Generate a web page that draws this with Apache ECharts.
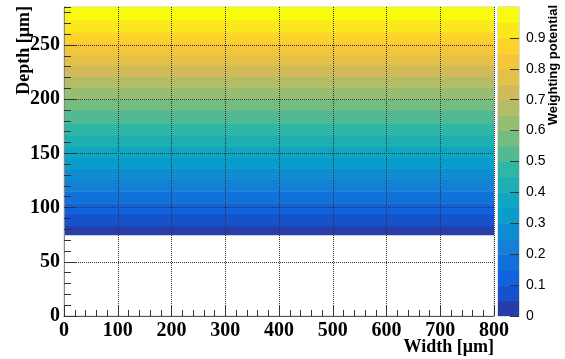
<!DOCTYPE html>
<html>
<head>
<meta charset="utf-8">
<script src="https://cdn.jsdelivr.net/npm/echarts@6/dist/echarts.min.js"></script>
<style>
  html, body { margin: 0; padding: 0; background: #fff; }
  #main { width: 565px; height: 359px; }
</style>
</head>
<body>
<div id="main"></div>
<script>
// band edges along the depth (um)
var depthEdges = [75, 83, 94, 104, 115, 126, 136, 146, 156, 167, 178, 190, 200, 211, 221, 231, 241, 252, 262, 273, 285];
// weighting potential in each band (middle of its contour level)
var potential = [0.025, 0.075, 0.125, 0.175, 0.225, 0.275, 0.325, 0.375, 0.425, 0.475,
                 0.525, 0.575, 0.625, 0.675, 0.725, 0.775, 0.825, 0.875, 0.925, 0.975];
var widthRange = [0, 800];
// contour levels of the colour scale
var zLevels = [0, 0.05, 0.1, 0.15, 0.2, 0.25, 0.3, 0.35, 0.4, 0.45, 0.5,
               0.55, 0.6, 0.65, 0.7, 0.75, 0.8, 0.85, 0.9, 0.95, 1];
// tick labels
var xTicks = [0, 100, 200, 300, 400, 500, 600, 700, 800];
var yTicks = [0, 50, 100, 150, 200, 250];
var zTicks = [0, 0.1, 0.2, 0.3, 0.4, 0.5, 0.6, 0.7, 0.8, 0.9];

// ROOT kBird palette
var birdStops = [0, 0.125, 0.25, 0.375, 0.5, 0.625, 0.75, 0.875, 1];
var birdR = [0.2082, 0.0592, 0.0780, 0.0232, 0.1802, 0.5301, 0.8186, 0.9956, 0.9764];
var birdG = [0.1664, 0.3599, 0.5041, 0.6419, 0.7178, 0.7492, 0.7328, 0.7862, 0.9832];
var birdB = [0.5293, 0.8684, 0.8385, 0.7914, 0.6425, 0.4662, 0.3499, 0.1968, 0.0539];
function bird(t) {
    var i = 0;
    while (i < birdStops.length - 2 && t > birdStops[i + 1]) i++;
    var f = (t - birdStops[i]) / (birdStops[i + 1] - birdStops[i]);
    function c(a) { return Math.round(255 * (a[i] + f * (a[i + 1] - a[i]))); }
    return 'rgb(' + c(birdR) + ',' + c(birdG) + ',' + c(birdB) + ')';
}
var nLev = zLevels.length - 1;
var levelColors = [];
for (var k = 0; k < nLev; k++) {
    levelColors.push(bird(Math.floor((k + 0.99) * 255 / nLev) / 254));
}
function colorFor(v) {
    for (var k = 0; k < nLev; k++) {
        if (v >= zLevels[k] && v < zLevels[k + 1]) return levelColors[k];
    }
    return levelColors[nLev - 1];
}

var bandData = [];
for (var i = 0; i < potential.length; i++) {
    bandData.push([widthRange[0], widthRange[1], depthEdges[i], depthEdges[i + 1], potential[i]]);
}
var barData = [];
for (var j = 0; j < nLev; j++) {
    barData.push([zLevels[j], zLevels[j + 1], (zLevels[j] + zLevels[j + 1]) / 2]);
}

var serif = { fontFamily: 'Liberation Serif', fontWeight: 'bold', fontSize: 20, color: '#000' };

var chart = echarts.init(document.getElementById('main'));
chart.setOption({
    animation: false,
    grid: [
        { left: 64, right: 71, top: 7, bottom: 43, show: true, borderColor: '#ccc', borderWidth: 1 },
        { left: 498, right: 46, top: 7, bottom: 43, show: true, borderColor: '#bbb', borderWidth: 1 }
    ],
    xAxis: [
        {
            gridIndex: 0, type: 'value', min: 0, max: 800, interval: 100, z: 5,
            axisLine: { show: true, onZero: false, lineStyle: { color: '#555', width: 1 } },
            axisTick: { inside: true, length: 10, lineStyle: { color: '#333' } },
            minorTick: { show: true, splitNumber: 5, length: 6, lineStyle: { color: '#333' } },
            axisLabel: Object.assign({ margin: 5, customValues: xTicks }, serif),
            splitLine: { show: true, lineStyle: { color: '#333', type: 'dotted', width: 1 } }
        },
        { gridIndex: 1, type: 'value', min: 0, max: 1, show: false }
    ],
    yAxis: [
        {
            gridIndex: 0, type: 'value', position: 'left', min: 0, max: 285, interval: 50, z: 5,
            axisLine: { show: true, onZero: false, lineStyle: { color: '#888', width: 1 } },
            axisTick: { inside: true, length: 13, customValues: yTicks, lineStyle: { color: '#333' } },
            axisLabel: Object.assign({ margin: 4, customValues: yTicks }, serif),
            splitLine: { show: true, lineStyle: { color: '#333', type: 'dotted', width: 1 } }
        },
        {
            gridIndex: 0, type: 'value', position: 'left', min: 0, max: 285, interval: 10, z: 5,
            axisLine: { show: false, onZero: false },
            axisTick: { inside: true, length: 7, lineStyle: { color: '#333' } },
            axisLabel: { show: false },
            splitLine: { show: false }
        },
        {
            gridIndex: 1, type: 'value', min: 0, max: 1, interval: 0.1, position: 'right', z: 5,
            axisLine: { show: false, onZero: false },
            axisTick: { inside: true, length: 9, customValues: zTicks, lineStyle: { color: '#333' } },
            axisLabel: { margin: 7, customValues: zTicks, fontFamily: 'Liberation Sans', fontSize: 14, color: '#000' },
            splitLine: { show: false }
        }
    ],
    series: [
        {
            type: 'custom', xAxisIndex: 0, yAxisIndex: 0, clip: true,
            data: bandData,
            renderItem: function (params, api) {
                var p0 = api.coord([api.value(0), api.value(3)]);
                var p1 = api.coord([api.value(1), api.value(2)]);
                return {
                    type: 'rect',
                    shape: { x: p0[0], y: p0[1], width: p1[0] - p0[0], height: p1[1] - p0[1] + 0.5 },
                    style: { fill: colorFor(api.value(4)) }
                };
            }
        },
        {
            type: 'custom', xAxisIndex: 1, yAxisIndex: 2, clip: true,
            data: barData,
            renderItem: function (params, api) {
                var p0 = api.coord([0, api.value(1)]);
                var p1 = api.coord([1, api.value(0)]);
                return {
                    type: 'rect',
                    shape: { x: p0[0], y: p0[1], width: p1[0] - p0[0], height: p1[1] - p0[1] + 0.5 },
                    style: { fill: colorFor(api.value(2)) }
                };
            }
        }
    ],
    graphic: [
        {
            type: 'text', x: 24, y: 6, rotation: Math.PI / 2,
            style: { text: 'Depth [μm]', align: 'right', verticalAlign: 'middle',
                     font: 'bold 18px "Liberation Serif"', fill: '#000' }
        },
        {
            type: 'text', x: 494, y: 347,
            style: { text: 'Width [μm]', align: 'right', verticalAlign: 'middle',
                     font: 'bold 18px "Liberation Serif"', fill: '#000' }
        },
        {
            type: 'text', x: 553, y: 5, rotation: Math.PI / 2,
            style: { text: 'Weighting potential', align: 'right', verticalAlign: 'middle',
                     font: 'bold 13px "Liberation Sans"', fill: '#000' }
        }
    ]
});
</script>
</body>
</html>
